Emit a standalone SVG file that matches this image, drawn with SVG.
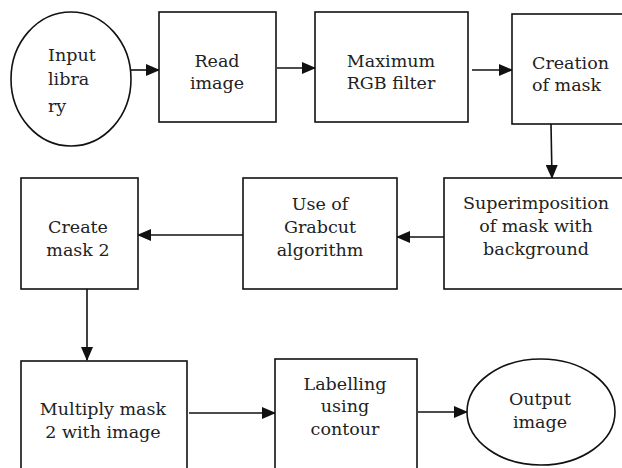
<svg xmlns="http://www.w3.org/2000/svg" width="622" height="468" viewBox="0 0 622 468">
<style>
.n{fill:#fff;stroke:#111;stroke-width:1.6}
.t{font-size:17.5px;fill:#222;text-anchor:middle}
.s{text-anchor:start}
.c{fill:none;stroke:#111;stroke-width:1.6}
</style>
<defs>
<marker id="ah" markerUnits="userSpaceOnUse" markerWidth="14" markerHeight="12" refX="13" refY="6" orient="auto">
<path d="M0,0 L14,6 L0,12 Z" fill="#111"/>
</marker>
</defs>
<rect width="622" height="468" fill="#fff"/>
<g id="connectors">
<line class="c" x1="131" y1="70" x2="159" y2="70" marker-end="url(#ah)"/>
<line class="c" x1="277" y1="68" x2="315" y2="68" marker-end="url(#ah)"/>
<line class="c" x1="472" y1="70" x2="512" y2="70" marker-end="url(#ah)"/>
<line class="c" x1="551" y1="124" x2="552" y2="178" marker-end="url(#ah)"/>
<line class="c" x1="444" y1="237" x2="397" y2="237" marker-end="url(#ah)"/>
<line class="c" x1="243" y1="235" x2="138" y2="235" marker-end="url(#ah)"/>
<line class="c" x1="87" y1="289" x2="87" y2="360" marker-end="url(#ah)"/>
<line class="c" x1="189" y1="413" x2="275" y2="413" marker-end="url(#ah)"/>
<line class="c" x1="418" y1="412" x2="467" y2="412" marker-end="url(#ah)"/>
</g>
<g font-family="DejaVu Serif, Liberation Serif, serif">
<g id="input">
<ellipse class="n" cx="71" cy="79" rx="60" ry="67"/>
<text class="t s" x="48" y="61">Input</text>
<text class="t s" x="48" y="85">libra</text>
<text class="t s" x="48" y="112">ry</text>
</g>
<g id="read">
<rect class="n" x="159" y="12" width="117" height="110"/>
<text class="t" x="217" y="67">Read</text>
<text class="t" x="217" y="89">image</text>
</g>
<g id="maxrgb">
<rect class="n" x="315" y="12" width="153" height="110"/>
<text class="t" x="391" y="67">Maximum</text>
<text class="t" x="391" y="89">RGB filter</text>
</g>
<g id="creation">
<rect class="n" x="512" y="14" width="114" height="110"/>
<text class="t s" x="532" y="69">Creation</text>
<text class="t s" x="532" y="91">of mask</text>
</g>
<g id="superimposition">
<rect class="n" x="444" y="178" width="182" height="111"/>
<text class="t" x="536" y="209">Superimposition</text>
<text class="t" x="536" y="232">of mask with</text>
<text class="t" x="536" y="255">background</text>
</g>
<g id="grabcut">
<rect class="n" x="243" y="178" width="154" height="111"/>
<text class="t" x="320" y="210">Use of</text>
<text class="t" x="320" y="233">Grabcut</text>
<text class="t" x="320" y="256">algorithm</text>
</g>
<g id="mask2">
<rect class="n" x="21" y="178" width="117" height="111"/>
<text class="t" x="78" y="233">Create</text>
<text class="t" x="78" y="256">mask 2</text>
</g>
<g id="multiply">
<rect class="n" x="21" y="361" width="166" height="112"/>
<text class="t" x="103" y="415">Multiply mask</text>
<text class="t" x="103" y="438">2 with image</text>
</g>
<g id="labelling">
<rect class="n" x="275" y="359" width="142" height="114"/>
<text class="t" x="345" y="390">Labelling</text>
<text class="t" x="345" y="412">using</text>
<text class="t" x="345" y="435">contour</text>
</g>
<g id="output">
<ellipse class="n" cx="541" cy="412" rx="74" ry="53"/>
<text class="t" x="540" y="405">Output</text>
<text class="t" x="540" y="428">image</text>
</g>
</g>
</svg>
